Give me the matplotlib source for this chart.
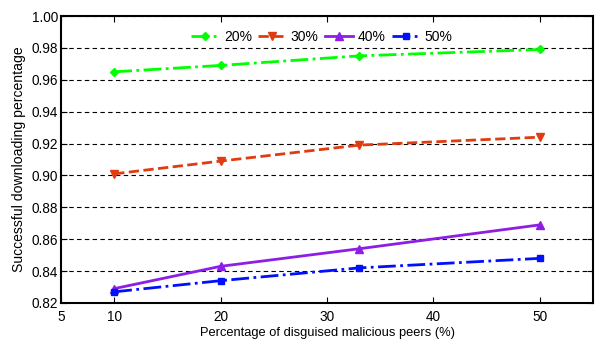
import numpy as np
import matplotlib
matplotlib.use('Agg')
import matplotlib.pyplot as plt

plt.rcParams['font.family'] = ['Liberation Sans', 'DejaVu Sans']

x = [10, 20, 33, 50]
s20 = [0.965, 0.969, 0.975, 0.979]
s30 = [0.901, 0.909, 0.919, 0.924]
s40 = [0.829, 0.843, 0.854, 0.869]
s50 = [0.827, 0.834, 0.842, 0.848]
labels = ['20%', '30%', '40%', '50%']

fig = plt.figure(figsize=(6.08, 3.46), dpi=100)
ax = fig.add_axes([61/608, 1-303/346, 532/608, 287/346])

ax.plot(x, s20, color='#00ff00', linestyle='-.', marker='D', markersize=4.5, lw=2, label=labels[0])
ax.plot(x, s30, color='#e03c10', linestyle='--', marker='v', markersize=6, lw=2, label=labels[1])
ax.plot(x, s40, color='#8c1ee6', linestyle='-', marker='^', markersize=6, lw=2, label=labels[2])
ax.plot(x, s50, color='#0010ff', linestyle='-.', marker='s', markersize=5, lw=2, label=labels[3])

ax.set_xlim(5, 55)
ax.set_ylim(0.82, 1.0)
ax.set_xticks([5, 10, 20, 30, 40, 50])
ax.set_yticks(np.arange(0.82, 1.001, 0.02))
ax.yaxis.set_major_formatter(matplotlib.ticker.FormatStrFormatter('%.2f'))
ax.tick_params(direction='in', top=True, right=True, labelsize=9.8, length=4)
ax.tick_params(axis='x', pad=5)
ax.tick_params(axis='y', pad=2)
ax.yaxis.grid(True, linestyle=(0, (4, 3)), color='black', lw=0.8)
for sp in ax.spines.values():
    sp.set_linewidth(1.5)

ax.set_xlabel('Percentage of disguised malicious peers (%)', fontsize=9.3, labelpad=2)
ax.set_ylabel('Successful downloading percentage', fontsize=10.1, labelpad=4)

ax.legend(loc='upper center', ncol=4, frameon=False, fontsize=10,
          handlelength=2.0, columnspacing=0.45, handletextpad=0.35,
          bbox_to_anchor=(0.49, 0.995))

fig.savefig('out.png', dpi=100)
